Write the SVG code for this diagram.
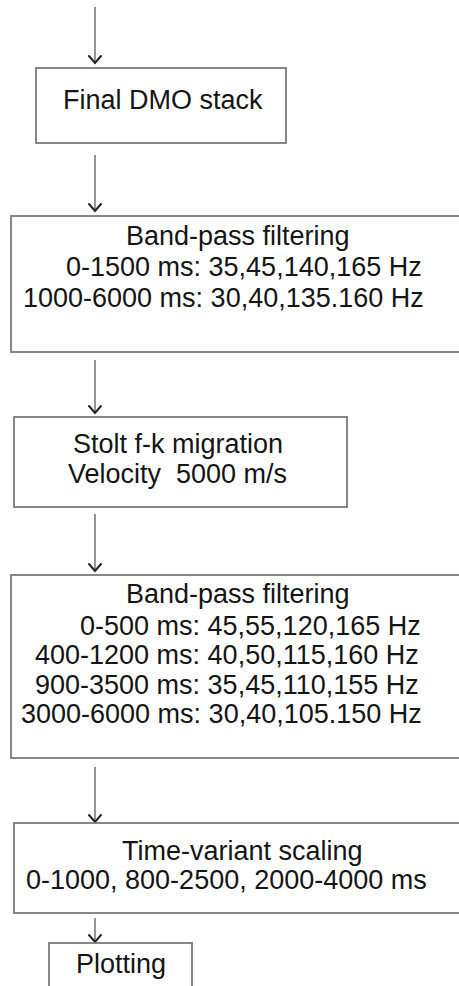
<svg xmlns="http://www.w3.org/2000/svg" width="459" height="986" viewBox="0 0 459 986">
<defs>
<style>
.box{fill:#fff;stroke:#7a7a7a;stroke-width:1.8}
.ln{stroke:#7a7a7a;stroke-width:1.6;fill:none}
.hd{stroke:#222;stroke-width:2;fill:none;stroke-linecap:round;stroke-linejoin:miter}
text{font-family:"Liberation Sans",Arial,sans-serif;font-size:27px;fill:#151515;white-space:pre}
</style>
</defs>
<rect width="459" height="986" fill="#fff"/>
<g id="connectors">
<line class="ln" x1="95" y1="7" x2="95" y2="62"/>
<polyline class="hd" points="89,56 95,63 101,56"/>
<line class="ln" x1="95" y1="155" x2="95" y2="210"/>
<polyline class="hd" points="89,204 95,211 101,204"/>
<line class="ln" x1="95" y1="360" x2="95" y2="412"/>
<polyline class="hd" points="89,406 95,413 101,406"/>
<line class="ln" x1="95" y1="514" x2="95" y2="570"/>
<polyline class="hd" points="89,564 95,571 101,564"/>
<line class="ln" x1="95" y1="767" x2="95" y2="821"/>
<polyline class="hd" points="89,815 95,822 101,815"/>
<line class="ln" x1="95" y1="918" x2="95" y2="941"/>
<polyline class="hd" points="89,935 95,942 101,935"/>
</g>
<g id="n1">
<rect class="box" x="36" y="68" width="250" height="75"/>
<text x="63" y="109">Final DMO stack</text>
</g>
<g id="n2">
<rect class="box" x="11" y="216" width="460" height="136"/>
<text x="126" y="245">Band-pass filtering</text>
<text x="66" y="276">0-1500 ms: 35,45,140,165 Hz</text>
<text x="23" y="307">1000-6000 ms: 30,40,135.160 Hz</text>
</g>
<g id="n3">
<rect class="box" x="14" y="417" width="333" height="90"/>
<text x="73" y="453">Stolt f-k migration</text>
<text x="68" y="483" xml:space="preserve">Velocity  5000 m/s</text>
</g>
<g id="n4">
<rect class="box" x="11" y="575" width="460" height="183"/>
<text x="126" y="603">Band-pass filtering</text>
<text x="80" y="635">0-500 ms: 45,55,120,165 Hz</text>
<text x="35" y="664">400-1200 ms: 40,50,115,160 Hz</text>
<text x="35" y="694">900-3500 ms: 35,45,110,155 Hz</text>
<text x="21" y="723">3000-6000 ms: 30,40,105.150 Hz</text>
</g>
<g id="n5">
<rect class="box" x="14" y="823" width="460" height="90"/>
<text x="122" y="860">Time-variant scaling</text>
<text x="26" y="889">0-1000, 800-2500, 2000-4000 ms</text>
</g>
<g id="n6">
<rect class="box" x="49" y="943" width="143" height="60"/>
<text x="76" y="973">Plotting</text>
</g>
</svg>
